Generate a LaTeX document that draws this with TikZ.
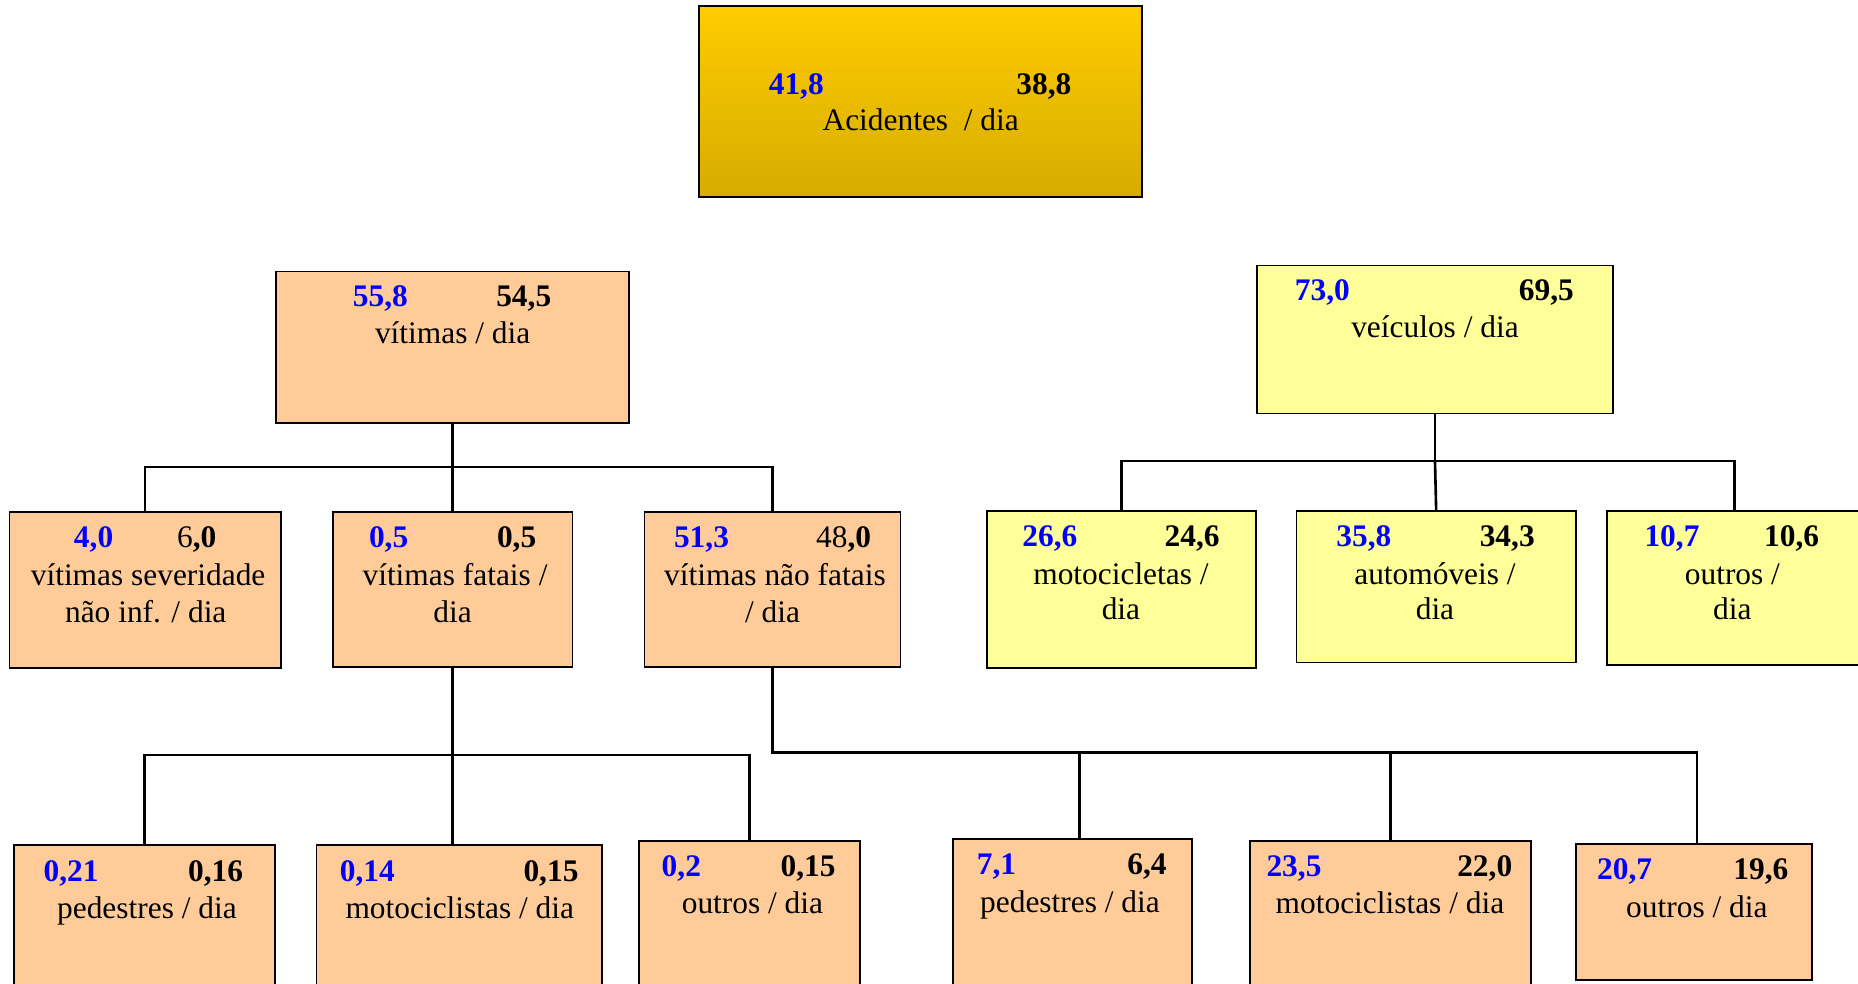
\documentclass[tikz,border=0pt]{standalone}
\usepackage{fontspec}
\setmainfont{Liberation Serif}
\definecolor{peach}{RGB}{255,204,153}
\definecolor{lyel}{RGB}{255,255,153}
\definecolor{goldtop}{RGB}{255,204,0}
\definecolor{goldbot}{RGB}{214,172,0}
\definecolor{nblue}{RGB}{0,0,255}
\newcommand\mybox[6]{\node[#6, minimum width={(#4-#2)*0.5pt}, minimum height={(#5-#3)*0.5pt}] (#1) at ({(#2+#4)/2},{(#3+#5)/2}) {};}
\begin{document}
\begin{tikzpicture}[x=0.5pt,y=-0.5pt,
  box/.style={draw=black, line width=0.7pt, inner sep=0pt, outer sep=0pt},
  pbox/.style={box, fill=peach},
  ybox/.style={box, fill=lyel},
  gbox/.style={box, top color=goldtop, bottom color=goldbot},
  lbl/.style={anchor=base, inner sep=0pt, font=\fontsize{13.25pt}{15pt}\selectfont},
  bn/.style={lbl, font=\fontsize{13.25pt}{15pt}\selectfont\bfseries, text=nblue},
  kn/.style={lbl, font=\fontsize{13.25pt}{15pt}\selectfont\bfseries},
  conn/.style={line width=1.1pt}]
\useasboundingbox[fill=white] (0,0) rectangle (1568,830);

% boxes
\mybox{top}{590}{5}{964}{166}{gbox}
\mybox{vit}{233}{229}{531}{357}{pbox}
\mybox{vei}{1061}{224}{1361}{349}{ybox}
\mybox{A}{8}{432}{237}{564}{pbox}
\mybox{B}{281}{432}{483}{563}{pbox}
\mybox{C}{544}{432}{760}{563}{pbox}
\mybox{D}{833}{431}{1060}{564}{ybox}
\mybox{E}{1094}{431}{1330}{559}{ybox}
\mybox{F}{1356}{431}{1572}{561}{ybox}
\mybox{G}{12}{713}{232}{840}{pbox}
\mybox{H}{267}{713}{508}{840}{pbox}
\mybox{I}{539}{710}{726}{840}{pbox}
\mybox{J}{804}{708}{1006}{840}{pbox}
\mybox{K}{1055}{710}{1292}{840}{pbox}
\mybox{L}{1330}{712}{1529}{827}{pbox}

% texts
\node[bn] (topa) at (672,80) {41,8};
\node[kn] (topb) at (881,80) {38,8};
\node[lbl] (topt) at (777,110) {Acidentes~~/ dia};

\node[bn] (vita) at (321,259) {55,8};
\node[kn] (vitb) at (442,259) {54,5};
\node[lbl] (vitt) at (382,290) {vítimas / dia};

\node[bn] (veia) at (1116,254) {73,0};
\node[kn] (veib) at (1305,254) {69,5};
\node[lbl] (veit) at (1211,285) {veículos / dia};

\node[bn] (Aa) at (79,462) {4,0};
\node[lbl] (Ab) at (166,462) {6\textbf{,0}};
\node[lbl] (At1) at (125,494) {vítimas severidade};
\node[lbl] (At2) at (123,525) {não inf. / dia};

\node[bn] (Ba) at (328,462) {0,5};
\node[kn] (Bb) at (436,462) {0,5};
\node[lbl] (Bt1) at (384,494) {vítimas fatais /};
\node[lbl] (Bt2) at (382,525) {dia};

\node[bn] (Ca) at (592,462) {51,3};
\node[lbl] (Cb) at (712,462) {48\textbf{,0}};
\node[lbl] (Ct1) at (654,494) {vítimas não fatais};
\node[lbl] (Ct2) at (652,525) {/ dia};

\node[bn] (Da) at (886,461) {26,6};
\node[kn] (Db) at (1006,461) {24,6};
\node[lbl] (Dt1) at (946,493) {motocicletas /};
\node[lbl] (Dt2) at (946,523) {dia};

\node[bn] (Ea) at (1151,461) {35,8};
\node[kn] (Eb) at (1272,461) {34,3};
\node[lbl] (Et1) at (1211,493) {automóveis /};
\node[lbl] (Et2) at (1211,523) {dia};

\node[bn] (Fa) at (1411,461) {10,7};
\node[kn] (Fb) at (1512,461) {10,6};
\node[lbl] (Ft1) at (1462,493) {outros /};
\node[lbl] (Ft2) at (1462,523) {dia};

\node[bn] (Ga) at (60,744) {0,21};
\node[kn] (Gb) at (182,744) {0,16};
\node[lbl] (Gt) at (124,775) {pedestres / dia};

\node[bn] (Ha) at (310,744) {0,14};
\node[kn] (Hb) at (465,744) {0,15};
\node[lbl] (Ht) at (388,775) {motociclistas / dia};

\node[bn] (Ia) at (575,740) {0,2};
\node[kn] (Ib) at (682,740) {0,15};
\node[lbl] (It) at (635,771) {outros / dia};

\node[bn] (Ja) at (841,738) {7,1};
\node[kn] (Jb) at (968,738) {6,4};
\node[lbl] (Jt) at (903,770) {pedestres / dia};

\node[bn] (Ka) at (1092,740) {23,5};
\node[kn] (Kb) at (1253,740) {22,0};
\node[lbl] (Kt) at (1173,771) {motociclistas / dia};

\node[bn] (La) at (1371,742) {20,7};
\node[kn] (Lb) at (1486,742) {19,6};
\node[lbl] (Lt) at (1432,774) {outros / dia};

% junctions
\coordinate (j1) at (vit.south |- 0,394);
\coordinate (j2) at (vei.south |- 0,389);
\coordinate (j3) at (B.south |- 0,637);
\coordinate (j4) at (C.south |- 0,635);
\coordinate (jH) at (B.south |- H.north);
\coordinate (jJ) at (911,708);
\coordinate (jL) at (1432,712);

% connectors
\draw[conn] (vit.south) -- (j1);
\draw[conn] (A.north) -- (A.north |- j1) -- (C.north |- j1) -- (C.north);
\draw[conn] (j1) -- (B.north);

\draw[conn] (vei.south) -- (j2);
\draw[conn] (D.north) -- (D.north |- j2) -- (F.north |- j2) -- (F.north);
\draw[conn] (j2) -- (E.north);

\draw[conn] (B.south) -- (j3);
\draw[conn] (G.north) -- (G.north |- j3) -- (I.north |- j3) -- (I.north);
\draw[conn] (j3) -- (jH);

\draw[conn] (C.south) -- (j4) -- (jL |- j4) -- (jL);
\draw[conn] (jJ |- j4) -- (jJ);
\draw[conn] (K.north |- j4) -- (K.north);
\end{tikzpicture}
\end{document}
